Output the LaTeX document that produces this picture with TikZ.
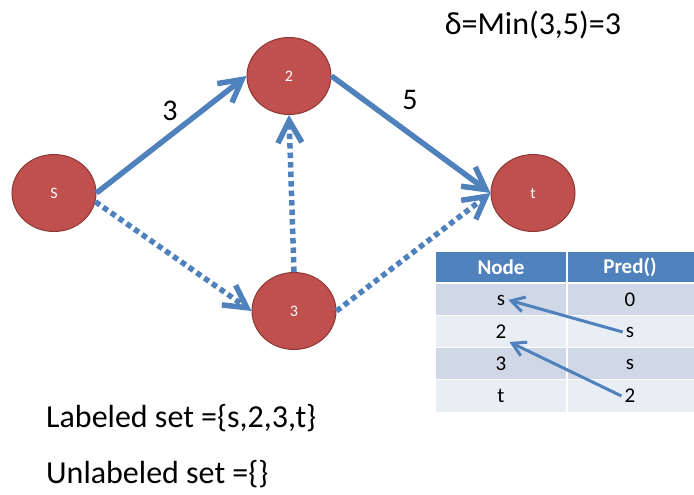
\documentclass[tikz,border=0pt]{standalone}
\usepackage{fontspec}
\setmainfont{Carlito}
\usetikzlibrary{arrows.meta,shapes.geometric}
\definecolor{nodered}{HTML}{C0504D}
\definecolor{nodeedge}{HTML}{8C3836}
\definecolor{flowblue}{HTML}{4F81BD}
\definecolor{rowdark}{HTML}{D0D8E8}
\definecolor{rowlight}{HTML}{E9EDF4}
\begin{document}
\begin{tikzpicture}[x=1pt,y=-1pt,
  vertex/.style={ellipse, fill=nodered, draw=nodeedge, line width=1pt,
    minimum width=84pt, minimum height=77pt, inner sep=0pt, text=white,
    font=\fontsize{16}{16}\selectfont},
  flow/.style={draw=flowblue, line width=5.5pt,
    -{Straight Barb[length=22pt,width=24pt,line width=5.5pt]}},
  dotflow/.style={flow, dash pattern=on 5.5pt off 4pt},
  bigtext/.style={font=\fontsize{30}{30}\selectfont, inner sep=0pt},
  settext/.style={font=\fontsize{32}{32}\selectfont, inner sep=0pt},
  cell/.style={rectangle, anchor=north west, inner sep=0pt, minimum height=31pt},
  headcell/.style={cell, fill=flowblue, minimum height=30pt},
  celltext/.style={inner sep=3pt, font=\fontsize{21}{21}\selectfont},
  headtext/.style={inner sep=3pt, text=white, font=\fontsize{21}{21}\selectfont\bfseries},
  predarrow/.style={draw=flowblue, line width=3pt,
    -{Straight Barb[length=13pt,width=15pt,line width=3pt]}}
]
\useasboundingbox (0,0) rectangle (694,495);

% network
\node[vertex] (s) at (54,193) {S};
\node[vertex] (v2) at (289,76) {2};
\node[vertex] (v3) at (294,311) {3};
\node[vertex] (t) at (533,193) {t};

\draw[flow] (s.east) -- (v2.west);
\draw[flow] (v2.east) -- (t.west);
\draw[dotflow] (s.-12) -- (v3.west);
\draw[dotflow] (v3.north) -- (v2.south);
\draw[dotflow] (v3.east) -- (t.west);

\node[bigtext] (c3) at (170,111) {3};
\node[bigtext] (c5) at (410,100) {5};
\node[font=\fontsize{32}{32}\selectfont, inner sep=0pt] (delta) at (533,25) {δ=Min(3,5)=3};

% predecessor table
\node[headcell, minimum width=130pt] (h1) at (436,252) {};
\node[headcell, minimum width=126pt] (h2) at (568,252) {};
\node[cell, fill=rowdark, minimum width=130pt] (a1) at (436,284) {};
\node[cell, fill=rowdark, minimum width=126pt] (b1) at (568,284) {};
\node[cell, fill=rowlight, minimum width=130pt] (a2) at (436,316) {};
\node[cell, fill=rowlight, minimum width=126pt] (b2) at (568,316) {};
\node[cell, fill=rowdark, minimum width=130pt] (a3) at (436,348) {};
\node[cell, fill=rowdark, minimum width=126pt] (b3) at (568,348) {};
\node[cell, fill=rowlight, minimum width=130pt, minimum height=32pt] (a4) at (436,380) {};
\node[cell, fill=rowlight, minimum width=126pt, minimum height=32pt] (b4) at (568,380) {};

\node[headtext] (th1) at (501,267) {Node};
\node[headtext] (th2) at (630,267) {Pred()};
\node[celltext] (n1) at (501,300) {s};
\node[celltext] (p1) at (630,300) {0};
\node[celltext] (n2) at (501,332) {2};
\node[celltext] (p2) at (630,332) {s};
\node[celltext] (n3) at (501,364) {3};
\node[celltext] (p3) at (630,364) {s};
\node[celltext] (n4) at (501,396) {t};
\node[celltext] (p4) at (630,396) {2};

\draw[predarrow] (p2.west) -- (n1.east);
\draw[predarrow] (p4.west) -- (n2.south east);

% label sets
\node[settext, anchor=base west] (lab) at (46,427) {Labeled set =\{s,2,3,t\}};
\node[settext, anchor=base west] (unlab) at (46,483) {Unlabeled set =\{\}};
\end{tikzpicture}
\end{document}
